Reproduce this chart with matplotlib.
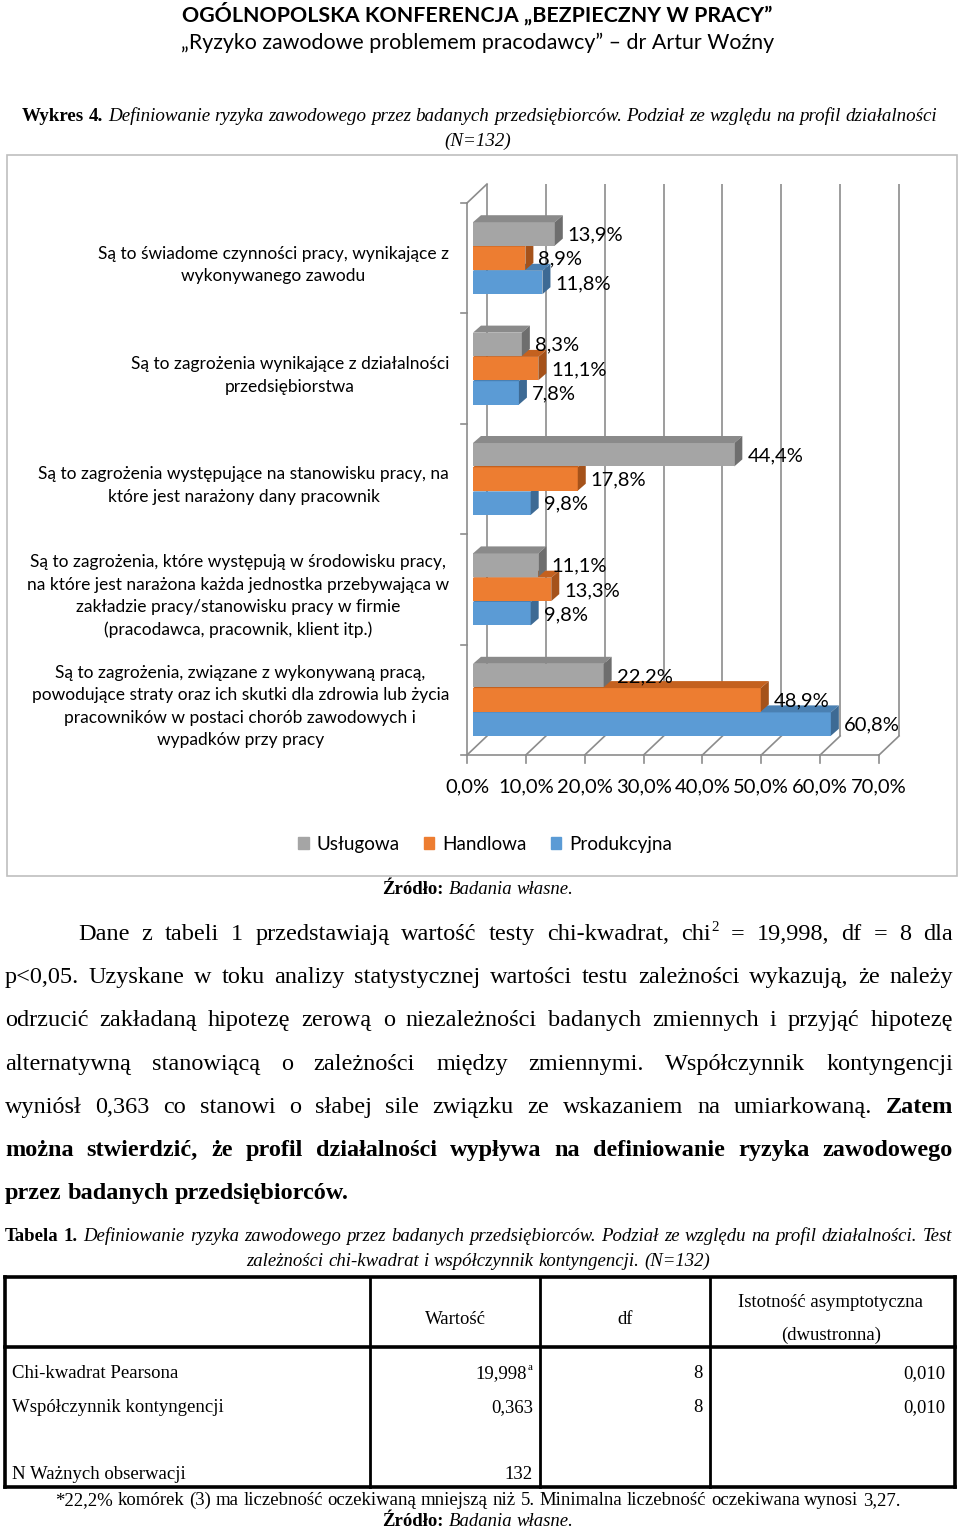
import matplotlib.pyplot as plt
from matplotlib.patches import Polygon, Rectangle, Patch
from matplotlib.lines import Line2D
from matplotlib.transforms import offset_copy, ScaledTranslation

# chart data
categories = [
    'Są to świadome czynności pracy, wynikające z\nwykonywanego zawodu',
    'Są to zagrożenia wynikające z działalności\nprzedsiębiorstwa',
    'Są to zagrożenia występujące na stanowisku pracy, na\nktóre jest narażony dany pracownik',
    'Są to zagrożenia, które występują w środowisku pracy,\nna które jest narażona każda jednostka przebywająca w\n'
    'zakładzie pracy/stanowisku pracy w firmie\n(pracodawca, pracownik, klient itp.)',
    'Są to zagrożenia, związane z wykonywaną pracą,\npowodujące straty oraz ich skutki dla zdrowia lub życia\n'
    'pracowników w postaci chorób zawodowych i\nwypadków przy pracy',
]
series_names = ['Usługowa', 'Handlowa', 'Produkcyjna']
uslugowa = [13.9, 8.3, 44.4, 11.1, 22.2]
handlowa = [8.9, 11.1, 17.8, 13.3, 48.9]
produkcyjna = [11.8, 7.8, 9.8, 9.8, 60.8]
x_ticks = [0, 10, 20, 30, 40, 50, 60, 70]
x_tick_labels = ['0,0%', '10,0%', '20,0%', '30,0%', '40,0%', '50,0%', '60,0%', '70,0%']

# table data
table_header = ['Wartość', 'df', 'Istotność asymptotyczna', '(dwustronna)']
table_rows = ['Chi-kwadrat Pearsona', 'Współczynnik kontyngencji', 'N Ważnych obserwacji']
table_value = ['19,998', '0,363', '132']
table_df = ['8', '8', '']
table_sig = ['0,010', '0,010', '']

plt.rcParams['font.family'] = ['Lato', 'DejaVu Sans']
SERIF = ['Liberation Serif', 'DejaVu Serif']

W, H = 960, 1530
fig = plt.figure(figsize=(W / 100, H / 100), dpi=100)


def fx(px):
    return px / W


def fy(py):
    return 1 - py / H


def hline(x0, x1, y, lw=1.0, color='black'):
    fig.add_artist(Line2D([fx(x0), fx(x1)], [fy(y), fy(y)], color=color, lw=lw))


def vline(x, y0, y1, lw=1.0, color='black'):
    fig.add_artist(Line2D([fx(x), fx(x)], [fy(y0), fy(y1)], color=color, lw=lw))


def draw_line(segments, y, x0, x1, size, mode='justify'):
    # words placed one by one so lines can be justified like in the document
    r = fig.canvas.get_renderer()
    items = []
    for txt, st in segments:
        for w in txt.split(' '):
            if not w:
                continue
            kw = dict(fontsize=size, family=SERIF, va='baseline',
                      weight='bold' if st == 'b' else 'normal',
                      style='italic' if st == 'i' else 'normal')
            parts = w.split('^')
            arts = []
            width = 0
            for k, p in enumerate(parts):
                if k == 0:
                    t = fig.text(0, fy(y), p, **kw)
                else:
                    kw2 = dict(kw, fontsize=size * 0.62)
                    t = fig.text(0, fy(y - size * 0.5), p, **kw2)
                arts.append((t, width))
                width += t.get_window_extent(r).width
            items.append((arts, width))
    total = sum(w for _, w in items)
    sp = 0.25 * size * 100 / 72
    if mode == 'justify' and len(items) > 1:
        gap = (x1 - x0 - total) / (len(items) - 1)
    else:
        gap = sp
    x = x0
    if mode == 'center':
        x = (x0 + x1) / 2 - (total + gap * (len(items) - 1)) / 2
    for arts, w in items:
        for t, off in arts:
            t.set_x(fx(x + off))
        x += w + gap


# page header
fig.text(fx(477), fy(14), 'OGÓLNOPOLSKA KONFERENCJA „BEZPIECZNY W PRACY”', ha='center', va='center',
         fontsize=15.4, weight='bold')
fig.text(fx(478), fy(43), '„Ryzyko zawodowe problemem pracodawcy” – dr Artur Woźny', ha='center', va='center',
         fontsize=15.4)

draw_line([('Wykres 4.', 'b'), ('Definiowanie ryzyka zawodowego przez badanych przedsiębiorców. '
                                'Podział ze względu na profil działalności', 'i')], 121, 22, 937, 13.7)
draw_line([('(N=132)', 'i')], 146, 0, 956, 13.7, mode='center')

# chart frame
fig.add_artist(Rectangle((fx(7), fy(876)), fx(950), 721 / H, transform=fig.transFigure,
                         fill=False, ec='#BFBFBF', lw=1.2))

ax = fig.add_axes([fx(467), fy(755), 412 / W, 552 / H])
ax.set_xlim(0, 70)
ax.set_ylim(4.5, -0.5)
ax.set_facecolor('none')
for s in ax.spines.values():
    s.set_visible(False)

ppx = 412 / 70
ppy = 552 / 5
g = '#8C8C8C'

# walls and floor of the 3d box
back_tr = offset_copy(ax.transData, fig=fig, x=20, y=19, units='dots')
ax.vlines(x_ticks, -0.5, 4.5, colors=g, lw=1.2, transform=back_tr, clip_on=False, zorder=1)
for xv in x_ticks:
    ax.plot([xv, xv + 20 / ppx], [4.5, 4.5 - 19 / ppy], color=g, lw=1.2, clip_on=False, zorder=1)
    ax.plot([xv, xv], [4.5, 4.5 + 8 / ppy], color=g, lw=1.2, clip_on=False, zorder=1)
ax.plot([0, 70], [4.5, 4.5], color=g, lw=1.2, clip_on=False, zorder=1)
ax.plot([0, 0], [-0.5, 4.5], color=g, lw=1.2, clip_on=False, zorder=1)
ax.plot([0, 20 / ppx], [-0.5, -0.5 - 19 / ppy], color=g, lw=1.2, clip_on=False, zorder=1)
for yb in [-0.5, 0.5, 1.5, 2.5, 3.5, 4.5]:
    ax.plot([-6 / ppx, 0], [yb, yb], color=g, lw=1.2, clip_on=False, zorder=1)

# 3d bars
series = [uslugowa, handlowa, produkcyjna]
front = ['#A5A5A5', '#ED7D31', '#5B9BD5']
top = ['#8A8A8A', '#C4611F', '#4A80B2']
side = ['#6E6E6E', '#A5521A', '#3D6A94']
shift = [-0.22, 0, 0.22]
bh = 0.212
ddx = 8 / ppx
ddy = 7 / ppy
bar_tr = offset_copy(ax.transData, fig=fig, x=6, y=0, units='dots')
lab_tr = offset_copy(ax.transData, fig=fig, x=19, y=-1, units='dots')
y_pos = list(range(len(categories)))
for s in [2, 1, 0]:
    z = 3 + (2 - s)
    ys = [p + shift[s] for p in y_pos]
    ax.barh(ys, series[s], height=bh, color=front[s], transform=bar_tr, zorder=z)
    for yc, v in zip(ys, series[s]):
        t, b = yc - bh / 2, yc + bh / 2
        ax.add_patch(Polygon([(0, t), (v, t), (v + ddx, t - ddy), (ddx, t - ddy)], closed=True,
                             fc=top[s], ec='none', transform=bar_tr, zorder=z))
        ax.add_patch(Polygon([(v, t), (v, b), (v + ddx, b - ddy), (v + ddx, t - ddy)], closed=True,
                             fc=side[s], ec='none', transform=bar_tr, zorder=z))
        ax.text(v, yc, f'{v:.1f}%'.replace('.', ','), transform=lab_tr, ha='left', va='center',
                fontsize=14.5, color='black', zorder=10)

ax.set_xticks(x_ticks, x_tick_labels, fontsize=14.5)
ax.set_yticks(y_pos, categories, fontsize=12.5, multialignment='center', linespacing=1.5)
ax.tick_params(axis='x', length=0, pad=17)
ax.tick_params(axis='y', length=0, pad=13)
nudge = ScaledTranslation(0, -2 / 100, fig.dpi_scale_trans)
for lbl in ax.get_yticklabels():
    lbl.set_transform(lbl.get_transform() + nudge)

handles = [Patch(color=c, label=n) for c, n in zip(front, series_names)]
fig.legend(handles=handles, loc='center', bbox_to_anchor=(fx(485), fy(844)), ncol=3, frameon=False,
           fontsize=13.6, handlelength=0.55, handleheight=0.55, handletextpad=0.4, columnspacing=1.3)

draw_line([('Źródło:', 'b'), ('Badania własne.', 'i')], 894, 0, 956, 13.5, mode='center')

# paragraph
para = [
    ([('Dane z tabeli 1 przedstawiają wartość testy chi-kwadrat, chi^2 = 19,998, df = 8 dla', 'n')], 78, 'justify'),
    ([('p<0,05. Uzyskane w toku analizy statystycznej wartości testu zależności wykazują, że należy', 'n')], 5, 'justify'),
    ([('odrzucić zakładaną hipotezę zerową o niezależności badanych zmiennych i przyjąć hipotezę', 'n')], 5, 'justify'),
    ([('alternatywną stanowiącą o zależności między zmiennymi. Współczynnik kontyngencji', 'n')], 5, 'justify'),
    ([('wyniósł 0,363 co stanowi o słabej sile związku ze wskazaniem na umiarkowaną.', 'n'), ('Zatem', 'b')], 5, 'justify'),
    ([('można stwierdzić, że profil działalności wypływa na definiowanie ryzyka zawodowego', 'b')], 5, 'justify'),
    ([('przez badanych przedsiębiorców.', 'b')], 5, 'left'),
]
for i, (segs, x0, mode) in enumerate(para):
    draw_line(segs, 940 + i * 43.2, x0, 953, 17.5, mode=mode)

# table caption
draw_line([('Tabela 1.', 'b'), ('Definiowanie ryzyka zawodowego przez badanych przedsiębiorców. '
                                'Podział ze względu na profil działalności. Test', 'i')], 1241, 5, 952, 13.5)
draw_line([('zależności chi-kwadrat i współczynnik kontyngencji. (N=132)', 'i')], 1266, 0, 956, 13.5, mode='center')

# table
hline(5, 955, 1277, lw=2.6)
hline(5, 955, 1487, lw=2.6)
hline(5, 955, 1347, lw=2.6)
vline(5, 1277, 1487, lw=2.6)
vline(955, 1277, 1487, lw=2.6)
for xc in [370, 540, 710]:
    vline(xc, 1277, 1487, lw=2.0)

tkw = dict(fontsize=13.5, family=SERIF, va='baseline')
fig.text(fx(455), fy(1324), table_header[0], ha='center', **tkw)
fig.text(fx(625), fy(1324), table_header[1], ha='center', **tkw)
fig.text(fx(831), fy(1307), table_header[2], ha='center', **tkw)
fig.text(fx(831), fy(1340), table_header[3], ha='center', **tkw)
row_y = [1378, 1412, 1479]
for i, yb in enumerate(row_y):
    fig.text(fx(12), fy(yb), table_rows[i], ha='left', **tkw)
    fig.text(fx(533 if i else 527), fy(yb), table_value[i], ha='right', **tkw)
    fig.text(fx(703), fy(yb), table_df[i], ha='right', **tkw)
    fig.text(fx(945), fy(yb), table_sig[i], ha='right', **tkw)
fig.text(fx(528), fy(row_y[0] - 8), 'a', ha='left', fontsize=8, family=SERIF, va='baseline')

draw_line([('*22,2% komórek (3) ma liczebność oczekiwaną mniejszą niż 5. '
            'Minimalna liczebność oczekiwana wynosi 3,27.', 'n')], 1505, 0, 956, 13.5, mode='center')
draw_line([('Źródło:', 'b'), ('Badania własne.', 'i')], 1526, 0, 956, 13.5, mode='center')

fig.savefig('out.png', dpi=100)
